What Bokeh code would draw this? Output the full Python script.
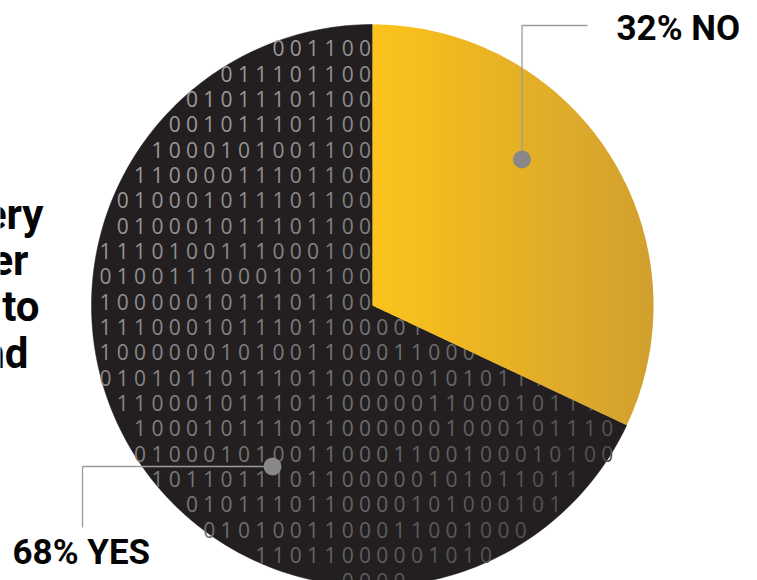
import numpy as np
from bokeh.plotting import figure
from bokeh.models import Range1d
from bokeh.core.properties import value
from bokeh.embed import file_html
from bokeh.resources import INLINE

# ---------------- data ----------------
categories = ["NO", "YES"]
shares = [32, 68]
labels = ["32% NO", "68% YES"]
title_fragments = ["ery", "er", "to", "nd"]

# binary texture inside the pie (row strings)
binary_rows = [
    "01001100",
    "1011101100",
    "001011101100",
    "0001011101100",
    "11000101001100",
    "111000011101100",
    "1010001011101100",
    "1010001011101100",
    "1110100111000100",
    "10100111000101100",
    "11000001011101100",
    "01110001011101100001",
    "1000000101001100011000",
    "01010110111011000001010111",
    "01100010111011000001100010111",
    "01000101110110000001000101110",
    "0100010100110001100100010100",
    "10110111011000001010110111",
    "001011101100001010001011",
    "01010011000110010001",
    "1110110000010101",
    "0111000010101",
]
binary_row_index = list(range(1, 23))
binary_first_col = [7, 9, 11, 12, 13, 14, 15, 15, 15, 16, 16, 16, 15, 15, 15, 14, 13, 12, 11, 9, 7, 5]

# ---------------- layout ----------------
W, H = 757, 580
cx, cy, R = 372.0, 305.0, 281.0
DARK = "#231f20"
YEL_L = np.array([252, 195, 28])
YEL_R = np.array([209, 159, 46])

p = figure(width=W, height=H, output_backend="svg", toolbar_location=None,
           x_range=Range1d(0, W), y_range=Range1d(H, 0),
           min_border=0, outline_line_color=None, background_fill_color="white",
           border_fill_color="white")
p.axis.visible = False
p.grid.visible = False


def wedge_pts(t0, t1, n=240):
    th = np.linspace(np.radians(t0), np.radians(t1), n)
    xs = np.concatenate([[cx], cx + R * np.cos(th)])
    ys = np.concatenate([[cy], cy - R * np.sin(th)])
    return xs, ys


def clip(xs, ys, xmin, xmax):
    pts = list(zip(xs, ys))
    for bound, keep_ge in ((xmin, True), (xmax, False)):
        out = []
        n = len(pts)
        if n == 0:
            break
        for i in range(n):
            a = pts[i]
            b = pts[(i + 1) % n]
            ina = a[0] >= bound if keep_ge else a[0] <= bound
            inb = b[0] >= bound if keep_ge else b[0] <= bound
            if ina:
                out.append(a)
            if ina != inb:
                t = (bound - a[0]) / (b[0] - a[0])
                out.append((bound, a[1] + t * (b[1] - a[1])))
        pts = out
    return [q[0] for q in pts], [q[1] for q in pts]


# wedge angles from shares (clockwise from 12 o'clock)
angles = []
start = 90.0
for s in shares:
    end = start - s * 3.6
    angles.append((start, end))
    start = end

# YES wedge (dark)
yx, yy = wedge_pts(*angles[1])
p.patch(yx, yy, fill_color=DARK, line_color=DARK, line_width=0.5)

# binary digits
dx_, dy_, dt_, dc_ = [], [], [], []
col_step, col0 = 17.3, 364.5
row_step, row0 = 25.35, 22.3
for k, m0, s in zip(binary_row_index, binary_first_col, binary_rows):
    y = row0 + row_step * k
    for j, ch in enumerate(s):
        m = m0 - j
        x = col0 - col_step * m
        if np.hypot(x - cx, y - cy) > R - 3:
            continue
        t = np.clip(((x - 90) + (y - 40)) / 1000.0, 0, 1)
        g = int(round(172 - t * 98))
        dx_.append(x); dy_.append(y); dt_.append(ch)
        dc_.append("#%02x%02x%02x" % (g, g - 1, g))
p.text(x=dx_, y=dy_, text=dt_, text_color=dc_, text_font=value("Open Sans"),
       text_font_size="21px", text_align="center", text_baseline="middle")

# NO wedge with horizontal gradient (vertical strips)
nx, ny = wedge_pts(*angles[0])
x_lo, x_hi = cx, cx + R
nstrip = 70
edges = np.linspace(x_lo, x_hi, nstrip + 1)
sx, sy, sc = [], [], []
for i in range(nstrip):
    a, b = edges[i], edges[i + 1]
    px, py = clip(nx, ny, a, b + 0.6)
    if len(px) < 3:
        continue
    t = (0.5 * (a + b) - x_lo) / (x_hi - x_lo)
    c = (YEL_L + (YEL_R - YEL_L) * t).round().astype(int)
    sx.append(px); sy.append(py); sc.append("#%02x%02x%02x" % tuple(c))
p.patches(sx, sy, fill_color=sc, line_color=None)

# leader lines and dots
LINE = "#9b9b9b"
p.line([521.5, 521.5, 587], [159, 25, 25], line_color=LINE, line_width=1.3)
p.line([272, 82, 82], [466, 466, 527], line_color=LINE, line_width=1.3)
p.scatter([521.5, 272], [159, 466], size=18, fill_color="#888888", line_color=None)

# labels
p.text(x=[616, 12], y=[28, 552], text=labels, text_font=value("Roboto"),
       text_font_style="bold", text_font_size="35px", text_color="#050505",
       text_align="left", text_baseline="alphabetic")

# cropped title fragments at the left edge
p.text(x=[43, 28, 39, 28], y=[214, 260, 306, 353], text=title_fragments,
       text_font=value("Roboto"), text_font_style="bold", text_font_size="42px",
       text_color="#050505", text_align="right", text_baseline="alphabetic")

open("out.html", "w").write(file_html(p, INLINE))
